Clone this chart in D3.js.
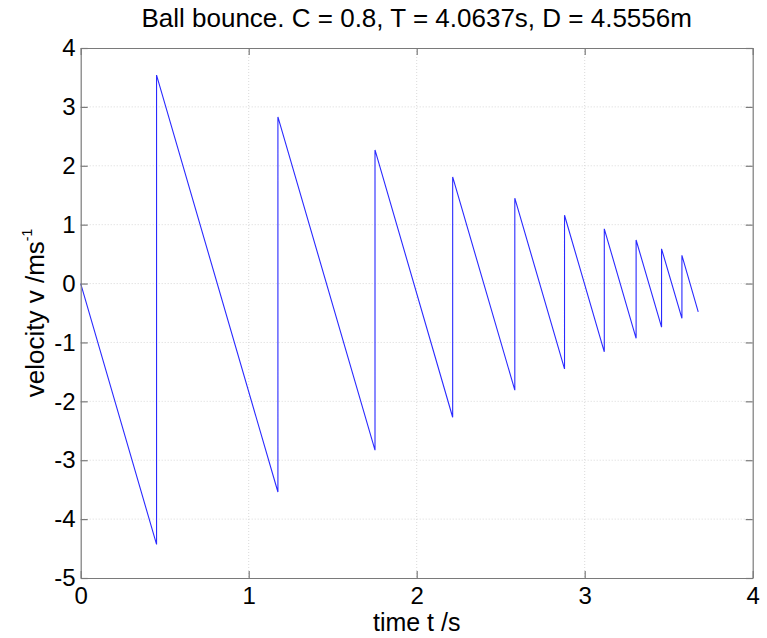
<!DOCTYPE html>
<html>
<head>
<meta charset="utf-8">
<script src="https://cdn.jsdelivr.net/npm/d3@7"></script>
<style>
  html, body { margin: 0; padding: 0; background: #fff; }
  svg { display: block; font-family: "Liberation Sans", Arial, sans-serif; }
</style>
</head>
<body>
<svg id="chart" width="767" height="638"></svg>
<script>
// Data (velocity trace of a bouncing ball)
const timeValues = [0, 0.4515, 0.4515, 1.1739, 1.1739, 1.7518, 1.7518, 2.2141, 2.2141, 2.5840, 2.5840, 2.8799, 2.8799, 3.1166, 3.1166, 3.3060, 3.3060, 3.4575, 3.4575, 3.5787, 3.5787, 3.6757];
const velocityValues = [0, -4.43, 3.54, -3.54, 2.83, -2.83, 2.27, -2.27, 1.81, -1.81, 1.45, -1.45, 1.16, -1.16, 0.93, -0.93, 0.74, -0.74, 0.59, -0.59, 0.48, -0.48];
const xTicks = [0, 1, 2, 3, 4];
const yTicks = [-5, -4, -3, -2, -1, 0, 1, 2, 3, 4];
const titleText = "Ball bounce. C = 0.8, T = 4.0637s, D = 4.5556m";
const xLabel = "time t /s";

const svg = d3.select("#chart");
const m = { left: 80.7, right: 752.7, top: 48, bottom: 578 };

const x = d3.scaleLinear().domain([0, 4]).range([m.left, m.right]);
const y = d3.scaleLinear().domain([-5, 4]).range([m.bottom, m.top]);

// grid
const grid = svg.append("g");
grid.selectAll("line.vx").data(xTicks.slice(1, -1)).enter().append("line")
  .attr("x1", d => x(d)).attr("x2", d => x(d))
  .attr("y1", m.top).attr("y2", m.bottom)
  .attr("stroke", "#cfcfcf").attr("stroke-width", 0.8).attr("stroke-dasharray", "1,2");
grid.selectAll("line.hy").data(yTicks.slice(1, -1)).enter().append("line")
  .attr("y1", d => y(d)).attr("y2", d => y(d))
  .attr("x1", m.left).attr("x2", m.right)
  .attr("stroke", "#cfcfcf").attr("stroke-width", 0.8).attr("stroke-dasharray", "1,2");

// data line
const line = d3.line().x((d, i) => x(timeValues[i])).y((d, i) => y(velocityValues[i]));
svg.append("path")
  .datum(timeValues)
  .attr("d", line)
  .attr("fill", "none")
  .attr("stroke", "#2a2aff")
  .attr("stroke-width", 1.1);

// axes (MATLAB style box with inward ticks)
const axCol = "#7a7a7a";
const tickLen = 7;
const fmt = d => String(d);
const bottomAxis = d3.axisBottom(x).tickValues(xTicks).tickFormat(fmt).tickSizeInner(-tickLen).tickSizeOuter(0).tickPadding(9);
const topAxis = d3.axisTop(x).tickValues(xTicks).tickSizeInner(-tickLen).tickSizeOuter(0).tickFormat("");
const leftAxis = d3.axisLeft(y).tickValues(yTicks).tickFormat(fmt).tickSizeInner(-tickLen).tickSizeOuter(0).tickPadding(5);
const rightAxis = d3.axisRight(y).tickValues(yTicks).tickSizeInner(-tickLen).tickSizeOuter(0).tickFormat("");

function style(g) {
  g.selectAll("path.domain").attr("stroke", axCol).attr("stroke-width", 1.2);
  g.selectAll(".tick line").attr("stroke", axCol).attr("stroke-width", 1.2);
  g.selectAll(".tick text").attr("fill", "#000").attr("font-size", 24)
    .attr("font-family", "Liberation Sans, Arial, sans-serif");
}
svg.append("g").attr("transform", `translate(0,${m.bottom})`).call(bottomAxis).call(style);
svg.append("g").attr("transform", `translate(0,${m.top})`).call(topAxis).call(style);
svg.append("g").attr("transform", `translate(${m.left},0)`).call(leftAxis).call(style);
svg.append("g").attr("transform", `translate(${m.right},0)`).call(rightAxis).call(style);

// title
svg.append("text")
  .attr("x", (m.left + m.right) / 2)
  .attr("y", 27)
  .attr("text-anchor", "middle")
  .attr("font-size", 26)
  .attr("fill", "#000")
  .text(titleText);

// x label
svg.append("text")
  .attr("x", (m.left + m.right) / 2)
  .attr("y", 631)
  .attr("text-anchor", "middle")
  .attr("font-size", 25)
  .attr("fill", "#000")
  .text(xLabel);

// y label with superscript
const yl = svg.append("text")
  .attr("transform", `translate(44,${(m.top + m.bottom) / 2}) rotate(-90)`)
  .attr("text-anchor", "middle")
  .attr("font-size", 26)
  .attr("fill", "#000");
yl.append("tspan").text("velocity v /ms");
yl.append("tspan").attr("dy", -12).attr("font-size", 14).text("-1");
</script>
</body>
</html>
